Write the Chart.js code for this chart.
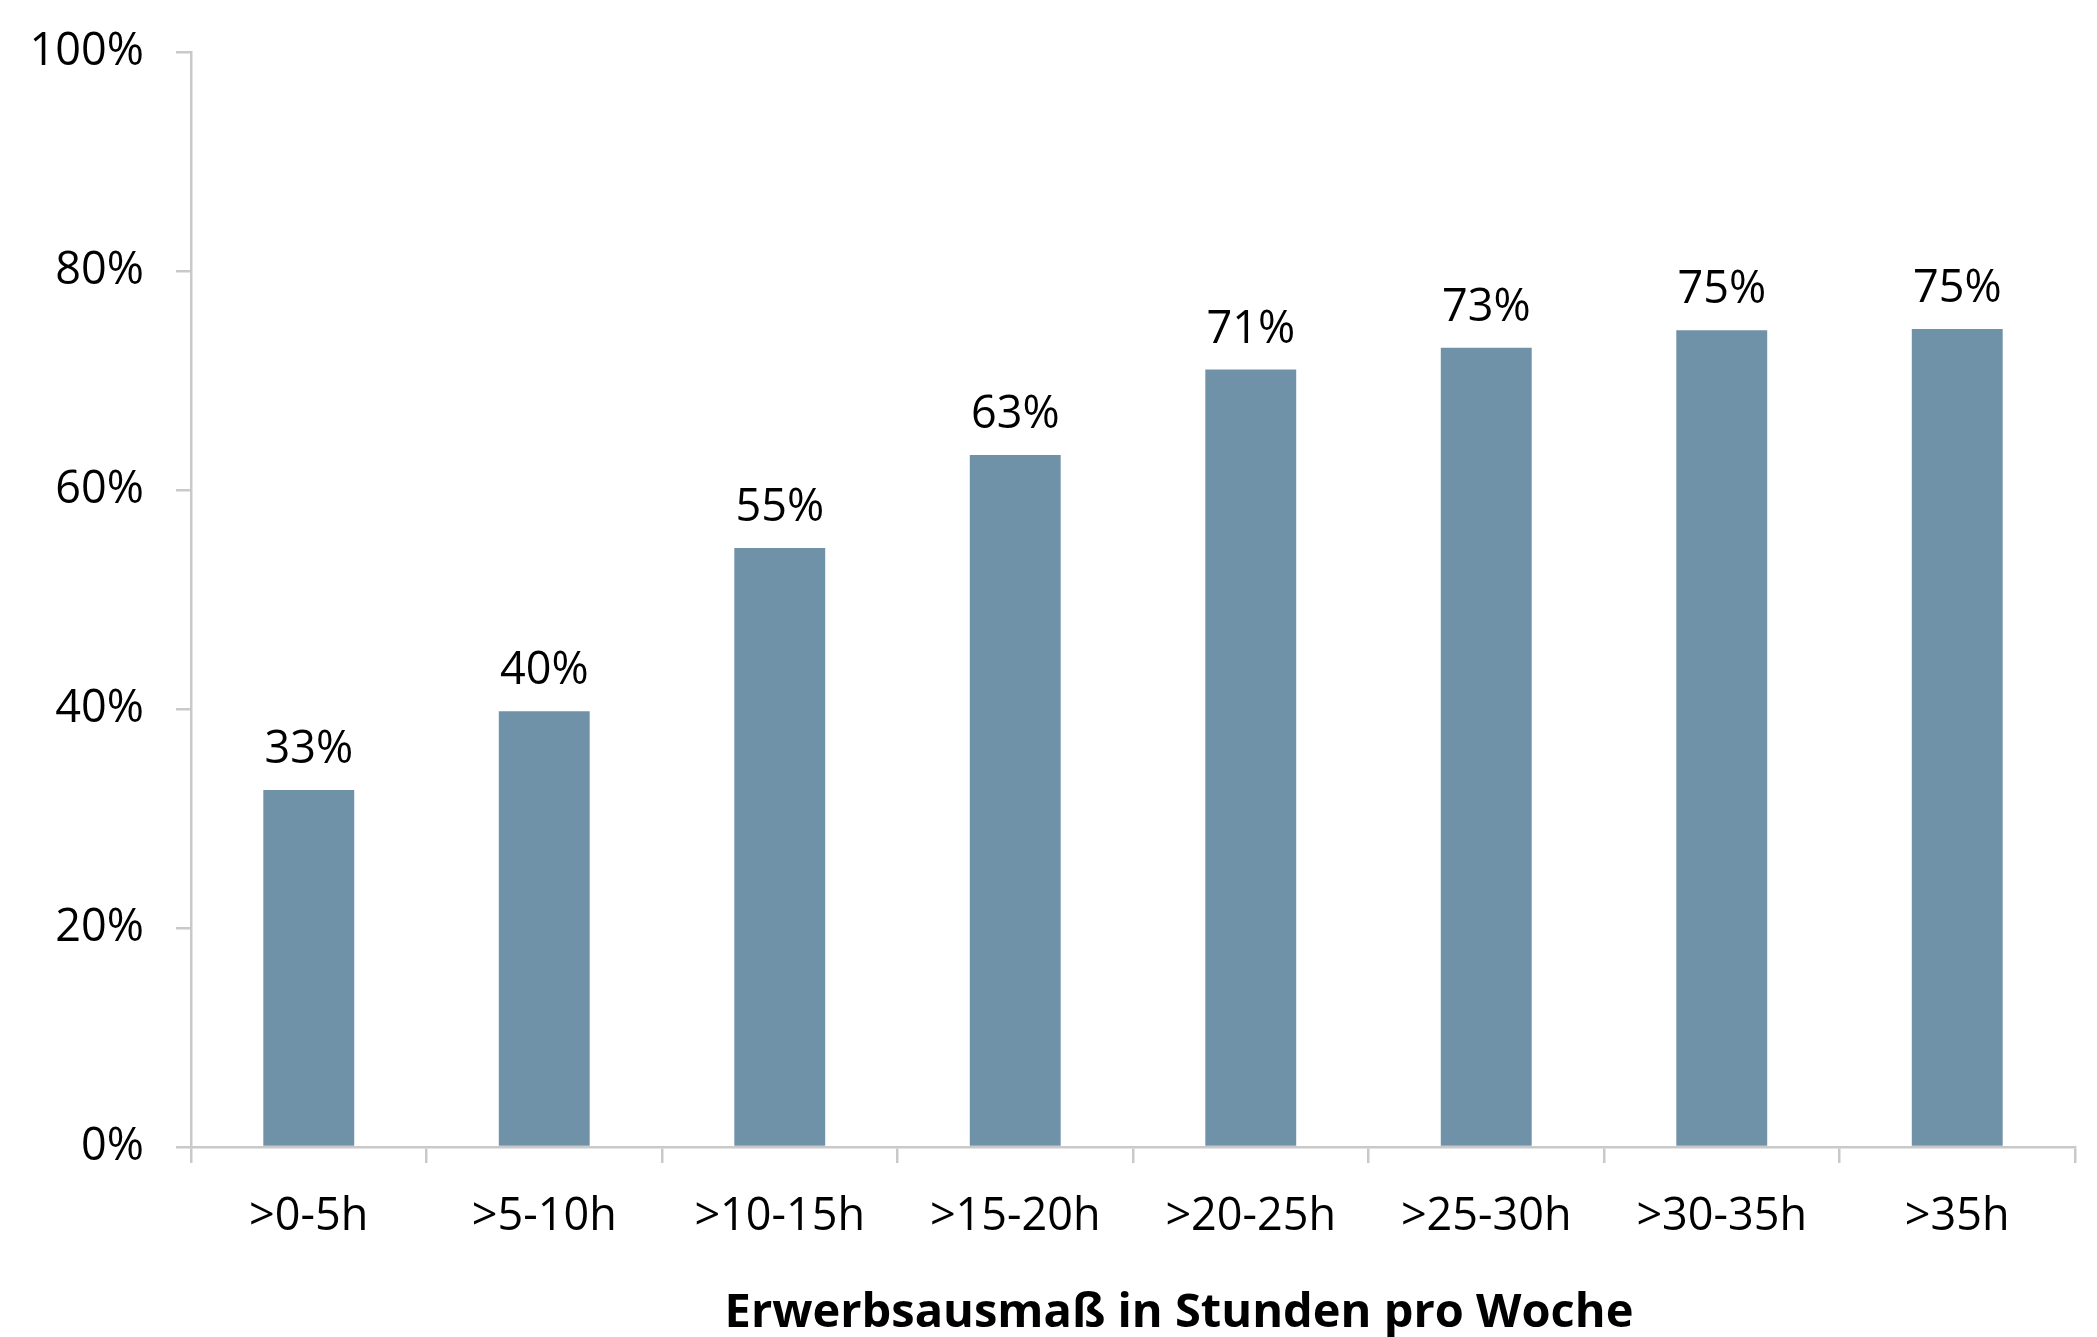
<!DOCTYPE html>
<html>
<head>
<meta charset="utf-8">
<script src="https://cdn.jsdelivr.net/npm/chart.js@4/dist/chart.umd.min.js"></script>
<style>
  html, body { margin: 0; padding: 0; background: #fff; }
  #wrap { width: 2097px; height: 1337px; }
</style>
</head>
<body>
<div id="wrap"><canvas id="myChart" width="2097" height="1337"></canvas></div>
<script>
// Daten
const categories = ['>0-5h', '>5-10h', '>10-15h', '>15-20h', '>20-25h', '>25-30h', '>30-35h', '>35h'];
const shares = [32.6, 39.8, 54.7, 63.2, 71.0, 73.0, 74.6, 74.7];
const yTicks = [0, 20, 40, 60, 80, 100];
const axisTitle = 'Erwerbsausmaß in Stunden pro Woche';

const FONT = '"Open Sans", sans-serif';
const axisGray = '#c9c9c9';

// Werte über den Balken + Achsentitel
const valueLabels = {
  id: 'valueLabels',
  afterDatasetsDraw(chart) {
    const ctx = chart.ctx;
    const meta = chart.getDatasetMeta(0);
    ctx.save();
    ctx.font = '45px ' + FONT;
    ctx.fillStyle = '#000';
    ctx.textAlign = 'center';
    ctx.textBaseline = 'alphabetic';
    meta.data.forEach((bar, i) => {
      ctx.fillText(Math.round(shares[i]) + '%', bar.x, bar.y - 27);
    });
    // Titel der x-Achse (im Original leicht rechts der Mitte)
    ctx.font = 'bold 47px ' + FONT;
    ctx.textBaseline = 'middle';
    ctx.fillText(axisTitle, 1179, 1314);
    ctx.restore();
  }
};

const ctx = document.getElementById('myChart').getContext('2d');
new Chart(ctx, {
  type: 'bar',
  data: {
    labels: categories,
    datasets: [{
      data: shares,
      backgroundColor: '#7092a8',
      categoryPercentage: 1,
      barPercentage: 0.386
    }]
  },
  options: {
    responsive: false,
    animation: false,
    layout: { padding: { top: 52, right: 22, left: 0, bottom: 0 } },
    plugins: {
      legend: { display: false },
      tooltip: { enabled: false }
    },
    scales: {
      y: {
        min: 0,
        max: 100,
        afterBuildTicks: (s) => { s.ticks = yTicks.map(v => ({ value: v })); },
        afterFit: (s) => { s.width = 191; s.paddingTop = 0; s.paddingBottom = 0; },
        border: { display: true, color: axisGray, width: 2.5 },
        grid: { drawOnChartArea: false, color: axisGray, lineWidth: 2.5, tickLength: 15 },
        ticks: {
          padding: 32,
          color: '#000',
          font: { family: FONT, size: 45 },
          callback: (v) => v + '%'
        }
      },
      x: {
        afterFit: (s) => { s.height = 190; },
        border: { display: true, color: axisGray, width: 2.5 },
        grid: { drawOnChartArea: false, color: axisGray, lineWidth: 2.5, tickLength: 16, offset: true },
        ticks: {
          padding: 27,
          color: '#000',
          font: { family: FONT, size: 45 },
          maxRotation: 0
        }
      }
    }
  },
  plugins: [valueLabels]
});
</script>
</body>
</html>
